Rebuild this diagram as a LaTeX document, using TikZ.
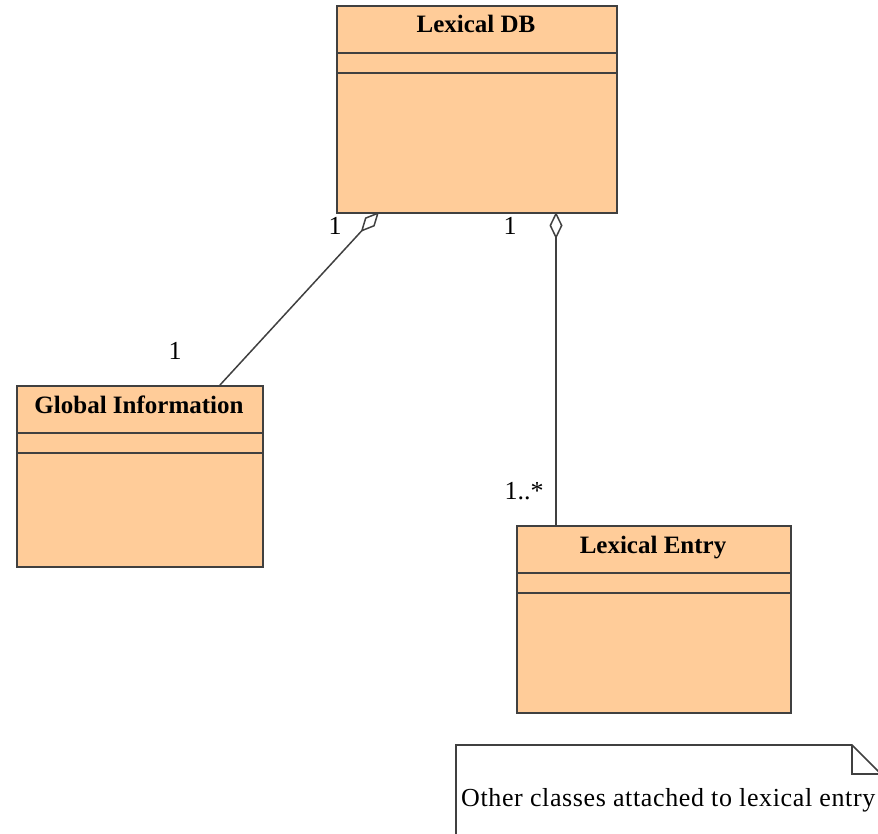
\documentclass[tikz,border=0pt]{standalone}
\usepackage{fontspec}
\setmainfont{Liberation Serif}
\usetikzlibrary{arrows.meta}
\definecolor{classfill}{HTML}{FFCC99}
\definecolor{linec}{HTML}{404040}
\begin{document}
\begin{tikzpicture}[x=1pt,y=-1pt,
  cls/.style={draw=linec, fill=classfill, line width=1.6pt, rectangle, inner sep=0pt, anchor=north west},
  sep/.style={draw=linec, line width=1.6pt},
  ttl/.style={anchor=base, inner sep=0pt, font=\bfseries\fontsize{25}{28}\selectfont},
  lbl/.style={anchor=base, inner sep=0pt, font=\fontsize{26}{30}\selectfont},
  agg/.style={draw=linec, line width=1.5pt, -{Diamond[open, length=27pt, width=13pt, line width=1.5pt]}}
]
\useasboundingbox (0,0) rectangle (878,834);
% classes
\node[cls, minimum width=280pt, minimum height=207pt] (db) at (336,5) {};
\node[cls, minimum width=246pt, minimum height=181pt] (gi) at (16,385) {};
\node[cls, minimum width=274pt, minimum height=187pt] (le) at (516,525) {};
% compartments
\draw[sep] ([yshift=-48pt]db.north west) -- ([yshift=-48pt]db.north east);
\draw[sep] ([yshift=-68pt]db.north west) -- ([yshift=-68pt]db.north east);
\draw[sep] ([yshift=-48pt]gi.north west) -- ([yshift=-48pt]gi.north east);
\draw[sep] ([yshift=-68pt]gi.north west) -- ([yshift=-68pt]gi.north east);
\draw[sep] ([yshift=-48pt]le.north west) -- ([yshift=-48pt]le.north east);
\draw[sep] ([yshift=-68pt]le.north west) -- ([yshift=-68pt]le.north east);
% titles
\node[ttl] (dbt) at (476,33) {Lexical DB};
\node[ttl] (git) at (139,413) {Global Information};
\node[ttl] (let) at (653,553) {Lexical Entry};
% connector ends
\coordinate (giend) at (220,385);
\coordinate (dbl) at (379,212);
\coordinate (dbr) at (556,212);
\coordinate (leend) at (556,525);
\draw[agg] (giend) -- (dbl);
\draw[agg] (leend) -- (dbr);
% multiplicities
\node[lbl] (m1) at (335,235) {1};
\node[lbl] (m2) at (510,235) {1};
\node[lbl] (m3) at (175,359) {1};
\node[lbl] (m4) at (524,499) {1..*};
% note
\begin{scope}
\clip (0,0) rectangle (878,834);
\draw[draw=linec, fill=white, line width=1.6pt] (456,840) -- (456,745) -- (852,745) -- (880,773) -- (880,840);
\draw[draw=linec, line width=1.6pt] (852,745) -- (852,774) -- (880,774);
\end{scope}
\node[anchor=base west, inner sep=0pt, font=\fontsize{26}{30}\selectfont\addfontfeature{LetterSpace=2.4}] (note) at (461,806) {Other classes attached to lexical entry};
\end{tikzpicture}
\end{document}
